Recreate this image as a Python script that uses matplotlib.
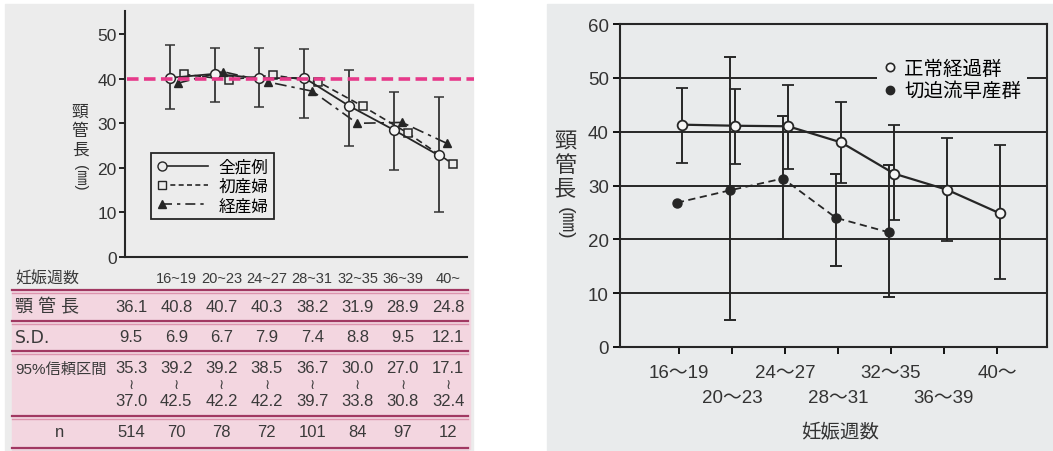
import numpy as np
import matplotlib.pyplot as plt
from matplotlib.lines import Line2D
from matplotlib.patches import Rectangle
from matplotlib.legend_handler import HandlerLine2D

plt.rcParams['font.family'] = ['Liberation Sans', 'Noto Sans CJK JP', 'DejaVu Sans']

# -----------------------------------
# DATA
# -----------------------------------

weeks = ['16~19', '20~23', '24~27', '28~31', '32~35', '36~39', '40~']

# left chart
all_mean = [40.2, 41.1, 40.1, 40.2, 33.9, 28.5, 22.8]
all_top = [47.6, 47.0, 46.9, 46.7, 42.0, 37.1, 35.8]
all_bottom = [33.2, 34.8, 33.6, 31.1, 24.8, 19.6, 10.0]
primi_mean = [41.0, 39.8, 40.8, 39.3, 33.8, 27.8, 20.9]
multi_mean = [39.0, 41.6, 39.3, 37.2, 30.0, 30.2, 25.5]
left_labels = ['全症例', '初産婦', '経産婦']
ref_line = 40

# table (first column = all weeks)
mean_vals = [36.1, 40.8, 40.7, 40.3, 38.2, 31.9, 28.9, 24.8]
sd_vals = [9.5, 6.9, 6.7, 7.9, 7.4, 8.8, 9.5, 12.1]
ci_low = [35.3, 39.2, 39.2, 38.5, 36.7, 30.0, 27.0, 17.1]
ci_high = [37.0, 42.5, 42.2, 42.2, 39.7, 33.8, 30.8, 32.4]
n_vals = [514, 70, 78, 72, 101, 84, 97, 12]
row_labels = ['妊娠週数', '顎 管 長', 'S.D.', '95%信頼区間', 'n']

# right chart
right_weeks = ['16～19', '20～23', '24～27', '28～31', '32～35', '36～39', '40～']
normal_mean = [41.3, 41.1, 41.0, 38.0, 32.2, 29.2, 24.8]
normal_top = [48.1, 48.0, 48.7, 45.5, 41.2, 38.9, 37.6]
normal_bottom = [34.1, 34.0, 33.0, 30.5, 23.6, 19.6, 12.7]
threat_mean = [26.8, 29.1, 31.3, 24.0, 21.3]
threat_top = [np.nan, 53.8, 42.9, 32.2, 33.8]
threat_bottom = [np.nan, 5.0, 20.0, 15.0, 9.3]
right_labels = ['正常経過群', '切迫流早産群']

# -----------------------------------
# FIGURE / BACKGROUND
# -----------------------------------

W, H = 1053, 452
INK = '#262626'
GRAY_L = '#ececec'
GRAY_R = '#e9ebec'
PINK = '#f3d6e0'

fig = plt.figure(figsize=(W / 100, H / 100), dpi=100)

bg = fig.add_axes([0, 0, 1, 1], zorder=0)
bg.set_xlim(0, W)
bg.set_ylim(H, 0)
bg.axis('off')
bg.add_patch(Rectangle((5, 5), 468, 447, color=GRAY_L))
bg.add_patch(Rectangle((547, 5), 506, 447, color=GRAY_R))
bg.add_patch(Rectangle((12, 291), 458, 159, color=PINK))


def px_axes(x0, y0, x1, y1):
    ax = fig.add_axes([x0 / W, 1 - y1 / H, (x1 - x0) / W, (y1 - y0) / H], zorder=2)
    ax.set_facecolor('none')
    return ax


class MarkerLeft(HandlerLine2D):
    def create_artists(self, *args, **kwargs):
        arts = super().create_artists(*args, **kwargs)
        for a in arts:
            a.set_markevery([0])
        return arts


# -----------------------------------
# LEFT CHART
# -----------------------------------

ax1 = px_axes(125, 12, 467, 258)
x = np.arange(len(weeks))

ax1.plot(x + 0.31, primi_mean, color=INK, lw=1.2, dashes=(4, 2.5),
         marker='s', ms=5.5, mfc=GRAY_L, mec=INK, mew=1.1, zorder=3)
ax1.plot(x + 0.18, multi_mean, color=INK, lw=1.2, dashes=(7, 3, 2, 3),
         marker='^', ms=6, mfc=INK, mec=INK, zorder=3)

m = np.array(all_mean)
ax1.errorbar(x, m, yerr=[m - np.array(all_bottom), np.array(all_top) - m],
             color=INK, lw=1.3, marker='o', ms=7, mfc='#f4f4f4', mec=INK, mew=1.1,
             ecolor='#333333', elinewidth=1.3, capsize=3.5, capthick=1.3, zorder=4)

ax1.axhline(ref_line, xmin=0.005, xmax=1.02, color='#e63a8a', lw=2.6,
            dashes=(3.2, 1.5), clip_on=False, zorder=5)

ax1.set_xlim(-1.0, 6.63)
ax1.set_ylim(0, 55.2)
ax1.set_xticks([])
ax1.set_yticks(range(0, 51, 10))
ax1.tick_params(axis='y', length=4, width=1.2, pad=2, labelsize=12.5, labelcolor='#333333')
for s in ['top', 'right']:
    ax1.spines[s].set_visible(False)
for s in ['left', 'bottom']:
    ax1.spines[s].set_linewidth(1.5)
    ax1.spines[s].set_color(INK)

h_all = Line2D([], [], color=INK, lw=1.2, marker='o', ms=6.5, mfc=GRAY_L, mec=INK)
h_primi = Line2D([], [], color=INK, lw=1.2, dashes=(3, 2), marker='s', ms=5.5, mfc=GRAY_L, mec=INK)
h_multi = Line2D([], [], color=INK, lw=1.2, dashes=(6, 3, 2, 3), marker='^', ms=6, mfc=INK, mec=INK)
leg1 = ax1.legend([h_all, h_primi, h_multi], left_labels,
                  handler_map={Line2D: MarkerLeft(numpoints=2)},
                  loc='upper left', bbox_to_anchor=(0.076, 0.423), borderaxespad=0,
                  fancybox=False, edgecolor=INK, facecolor=GRAY_L, framealpha=1,
                  fontsize=12, handlelength=3.4, handletextpad=0.3,
                  labelspacing=0.25, borderpad=0.35)
leg1.get_frame().set_linewidth(1.3)

# vertical y label
for i, ch in enumerate('頸管長'):
    bg.text(80, 112 + 19 * i, ch, ha='center', va='center', fontsize=12, color='#333333')
bg.text(80, 178, '(㎜)', ha='center', va='center', rotation=-90, fontsize=11, color='#333333')

# -----------------------------------
# TABLE
# -----------------------------------

col_x = [131 + 45.3 * i for i in range(len(mean_vals))]
TXT = '#3a3a3a'

for y in [291, 322, 352, 417, 449]:
    bg.plot([12, 468], [y, y], color='#a13862', lw=1.6)
    bg.plot([12, 468], [y + 3, y + 3], color='#dc94ae', lw=1.0)

bg.text(15, 279, row_labels[0], ha='left', va='center', fontsize=11.5, color=TXT)
for i, w in enumerate(weeks):
    bg.text(col_x[i + 1], 279, w, ha='center', va='center', fontsize=10.5, color=TXT)

bg.text(15, 308, row_labels[1], ha='left', va='center', fontsize=13, color=TXT)
bg.text(15, 338, row_labels[2], ha='left', va='center', fontsize=12.5, color=TXT,
        family='DejaVu Sans')
bg.text(15, 370, row_labels[3], ha='left', va='center', fontsize=11, color=TXT)
bg.text(60, 433, row_labels[4], ha='center', va='center', fontsize=12, color=TXT)

for i, cx in enumerate(col_x):
    bg.text(cx, 308, f'{mean_vals[i]:.1f}', ha='center', va='center', fontsize=12, color=TXT)
    bg.text(cx, 338, f'{sd_vals[i]:.1f}', ha='center', va='center', fontsize=12, color=TXT)
    bg.text(cx, 369, f'{ci_low[i]:.1f}', ha='center', va='center', fontsize=12, color=TXT)
    bg.text(cx, 385, '≀', ha='center', va='center', fontsize=10, color=TXT,
            family='DejaVu Sans')
    bg.text(cx, 402, f'{ci_high[i]:.1f}', ha='center', va='center', fontsize=12, color=TXT)
    bg.text(cx, 433, str(n_vals[i]), ha='center', va='center', fontsize=12, color=TXT)

# -----------------------------------
# RIGHT CHART
# -----------------------------------

ax2 = px_axes(620, 25, 1047, 348)
xr = np.arange(len(right_weeks))

nm = np.array(normal_mean)
ax2.errorbar(xr + 0.06, nm, yerr=[nm - np.array(normal_bottom), np.array(normal_top) - nm],
             color=INK, lw=1.6, marker='o', ms=7, mfc='#f6f6f6', mec=INK, mew=1.3,
             ecolor=INK, elinewidth=1.4, capsize=4, capthick=1.4, zorder=4)

tx = np.arange(len(threat_mean))
tm = np.array(threat_mean)
ax2.errorbar(tx - 0.04, tm, yerr=[tm - np.array(threat_bottom), np.array(threat_top) - tm],
             color=INK, lw=1.3, dashes=(4, 2.5), marker='o', ms=6.5, mfc=INK, mec=INK,
             ecolor=INK, elinewidth=1.4, capsize=4, capthick=1.4, zorder=3)

ax2.set_xlim(-1.113, 6.943)
ax2.set_ylim(0, 60)
ax2.set_yticks(range(0, 61, 10))
ax2.yaxis.grid(True, color=INK, lw=1.4)
ax2.set_axisbelow(True)
# two staggered rows of week labels
ax2.set_xticks(xr[::2])
ax2.set_xticklabels(right_weeks[::2])
ax2.set_xticks(xr[1::2], minor=True)
ax2.set_xticklabels(right_weeks[1::2], minor=True)
ax2.tick_params(axis='x', which='major', length=5, width=1.3, pad=7,
                labelsize=13.5, labelcolor='#333333')
ax2.tick_params(axis='x', which='minor', length=5, width=1.3, pad=25,
                labelsize=13.5, labelcolor='#333333')
ax2.tick_params(axis='y', length=5, width=1.3, pad=3, labelsize=13.5, labelcolor='#333333')
for s in ax2.spines.values():
    s.set_linewidth(1.5)
    s.set_color(INK)

h_norm = Line2D([], [], ls='none', marker='o', ms=6, mfc='#f6f6f6', mec=INK, mew=1.2)
h_threat = Line2D([], [], ls='none', marker='o', ms=6, mfc=INK, mec=INK)
ax2.legend([h_norm, h_threat], right_labels, loc='upper left',
           bbox_to_anchor=((877 - 620) / 427, (348 - 55) / 323), borderaxespad=0,
           frameon=True, fancybox=False, facecolor=GRAY_R, edgecolor='none', framealpha=1,
           fontsize=14, handlelength=0.7, handletextpad=0.4, labelspacing=0.2, borderpad=0.3)

bg.text(840, 433, '妊娠週数', ha='center', va='center', fontsize=14, color='#333333')
for i, ch in enumerate('頸管長'):
    bg.text(565, 143 + 23.5 * i, ch, ha='center', va='center', fontsize=16, color='#333333')
bg.text(565, 223, '(㎜)', ha='center', va='center', rotation=-90, fontsize=14, color='#333333')

fig.savefig('out.png', dpi=100)
